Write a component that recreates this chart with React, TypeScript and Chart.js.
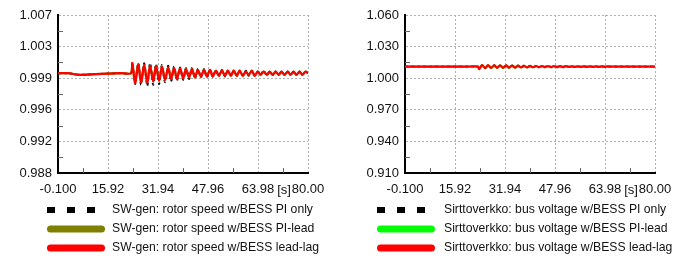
import { useEffect, useRef } from "react";
import { Chart, registerables } from "chart.js";

Chart.register(...registerables);

// ---------- data ----------
const TIMES = [
  0, 3, 7, 12, 20, 23.3,
  23.7, 24.6, 25.6, 26.5, 27.5, 28.5, 29.4, 30.4, 31.3, 32.3,
  33.2, 34.2, 35.2, 36.1, 37.1, 38.0, 39.0, 40.0, 40.9, 41.9,
  42.8, 43.8, 44.7, 45.7, 46.7, 47.6, 48.6, 49.5, 50.5, 51.4,
  52.4, 53.4, 54.3, 55.3, 56.2, 57.2, 58.1, 59.1, 60.1, 61.0,
  62.0, 62.9, 63.9, 64.8, 65.8, 66.8, 67.7, 68.7, 69.6, 70.6,
  71.5, 72.5, 73.5, 74.4, 75.4, 76.3, 77.3, 78.2, 79.2,
  80.0,
];

const SPEED_PI_ONLY = [
  1.0, 1.0, 0.9998, 0.9999, 1.0, 1.0,
  1.0012, 0.9987, 1.0012, 0.9986, 1.0012, 0.9985, 1.0012, 0.9986, 1.0011, 0.9987,
  1.001, 0.9989, 1.0009, 0.999, 1.0008, 0.9991, 1.0007, 0.9992, 1.0006, 0.9993,
  1.0006, 0.9994, 1.0005, 0.9995, 1.0005, 0.9995, 1.0004, 0.9996, 1.0004, 0.9996,
  1.0004, 0.9996, 1.0003, 0.9997, 1.0003, 0.9997, 1.0003, 0.9997, 1.0003, 0.9997,
  1.0003, 0.9997, 1.0002, 0.9998, 1.0003, 0.9997, 1.0002, 0.9998, 1.0002, 0.9998,
  1.0002, 0.9998, 1.0002, 0.9998, 1.0002, 0.9998, 1.0002, 0.9998, 1.0002,
  1.0,
];

const SPEED_PI_LEAD = [
  1.0, 1.0, 0.9998, 0.9999, 1.0, 1.0,
  1.0012, 0.9988, 1.0011, 0.9989, 1.001, 0.9989, 1.0009, 0.999, 1.0009, 0.9991,
  1.0008, 0.9992, 1.0007, 0.9993, 1.0006, 0.9993, 1.0006, 0.9994, 1.0005, 0.9995,
  1.0005, 0.9995, 1.0004, 0.9996, 1.0004, 0.9996, 1.0004, 0.9996, 1.0003, 0.9997,
  1.0003, 0.9997, 1.0003, 0.9997, 1.0003, 0.9997, 1.0003, 0.9997, 1.0002, 0.9998,
  1.0003, 0.9997, 1.0002, 0.9998, 1.0002, 0.9998, 1.0002, 0.9998, 1.0002, 0.9998,
  1.0002, 0.9998, 1.0002, 0.9998, 1.0002, 0.9998, 1.0002, 0.9998, 1.0002,
  1.0,
];

const SPEED_LEAD_LAG = [
  1.0, 1.0, 0.9998, 0.9999, 1.0, 1.0,
  1.0012, 0.9988, 1.0011, 0.9989, 1.001, 0.9989, 1.0009, 0.999, 1.0009, 0.9991,
  1.0008, 0.9992, 1.0007, 0.9993, 1.0006, 0.9993, 1.0006, 0.9994, 1.0005, 0.9995,
  1.0005, 0.9995, 1.0004, 0.9996, 1.0004, 0.9996, 1.0004, 0.9996, 1.0003, 0.9997,
  1.0003, 0.9997, 1.0003, 0.9997, 1.0003, 0.9997, 1.0003, 0.9997, 1.0002, 0.9998,
  1.0003, 0.9997, 1.0002, 0.9998, 1.0002, 0.9998, 1.0002, 0.9998, 1.0002, 0.9998,
  1.0002, 0.9998, 1.0002, 0.9998, 1.0002, 0.9998, 1.0002, 0.9998, 1.0002,
  1.0,
];

const VOLT_PI_ONLY = [
  1.011, 1.011, 1.011, 1.011, 1.011, 1.011,
  1.0086, 1.0124, 1.0096, 1.0124, 1.0097, 1.0123, 1.0098, 1.0122, 1.0099, 1.0121,
  1.01, 1.012, 1.0101, 1.0119, 1.0102, 1.0118, 1.0103, 1.0117, 1.0104, 1.0116,
  1.0104, 1.0116, 1.0105, 1.0115, 1.0105, 1.0115, 1.0106, 1.0114, 1.0106, 1.0114,
  1.0107, 1.0113, 1.0107, 1.0113, 1.0107, 1.0113, 1.0108, 1.0112, 1.0108, 1.0112,
  1.0108, 1.0112, 1.0108, 1.0112, 1.0109, 1.0111, 1.0109, 1.0111, 1.0109, 1.0111,
  1.0109, 1.0111, 1.0109, 1.0111, 1.0109, 1.0111, 1.0109, 1.0111, 1.011,
  1.011,
];

const VOLT_PI_LEAD = [
  1.011, 1.011, 1.011, 1.011, 1.011, 1.011,
  1.0087, 1.0124, 1.0096, 1.0123, 1.0097, 1.0122, 1.0098, 1.0122, 1.0099, 1.0121,
  1.01, 1.012, 1.0101, 1.0119, 1.0102, 1.0118, 1.0103, 1.0117, 1.0104, 1.0116,
  1.0104, 1.0116, 1.0105, 1.0115, 1.0105, 1.0115, 1.0106, 1.0114, 1.0106, 1.0114,
  1.0107, 1.0113, 1.0107, 1.0113, 1.0107, 1.0113, 1.0108, 1.0112, 1.0108, 1.0112,
  1.0108, 1.0112, 1.0108, 1.0112, 1.0109, 1.0111, 1.0109, 1.0111, 1.0109, 1.0111,
  1.0109, 1.0111, 1.0109, 1.0111, 1.0109, 1.0111, 1.0109, 1.0111, 1.011,
  1.011,
];

const VOLT_LEAD_LAG = [
  1.011, 1.011, 1.011, 1.011, 1.011, 1.011,
  1.0086, 1.0124, 1.0096, 1.0124, 1.0097, 1.0123, 1.0098, 1.0122, 1.0099, 1.0121,
  1.01, 1.012, 1.0101, 1.0119, 1.0102, 1.0118, 1.0103, 1.0117, 1.0104, 1.0116,
  1.0104, 1.0116, 1.0105, 1.0115, 1.0105, 1.0115, 1.0106, 1.0114, 1.0106, 1.0114,
  1.0107, 1.0113, 1.0107, 1.0113, 1.0107, 1.0113, 1.0108, 1.0112, 1.0108, 1.0112,
  1.0108, 1.0112, 1.0108, 1.0112, 1.0109, 1.0111, 1.0109, 1.0111, 1.0109, 1.0111,
  1.0109, 1.0111, 1.0109, 1.0111, 1.0109, 1.0111, 1.0109, 1.0111, 1.011,
  1.011,
];

const X_TICKS = [-0.1, 15.92, 31.94, 47.96, 63.98, 80.0];
const X_TICK_LABELS = ["-0.100", "15.92", "31.94", "47.96", "63.98", "80.00"];
const X_UNIT = "[s]";

const SPEED_TICKS = [0.988, 0.9918, 0.9956, 0.9994, 1.0032, 1.007];
const SPEED_TICK_LABELS = ["0.988", "0.992", "0.996", "0.999", "1.003", "1.007"];

const VOLT_TICKS = [0.91, 0.94, 0.97, 1.0, 1.03, 1.06];
const VOLT_TICK_LABELS = ["0.910", "0.940", "0.970", "1.000", "1.030", "1.060"];

const SPEED_LABELS = [
  "SW-gen: rotor speed w/BESS PI only",
  "SW-gen: rotor speed w/BESS PI-lead",
  "SW-gen: rotor speed w/BESS lead-lag",
];
const VOLT_LABELS = [
  "Sirttoverkko: bus voltage w/BESS PI only",
  "Sirttoverkko: bus voltage w/BESS PI-lead",
  "Sirttoverkko: bus voltage w/BESS lead-lag",
];

// ---------- styling ----------
const FAMILY = '"Liberation Sans", Arial, Helvetica, sans-serif';
const FONT_SIZE = 13;
const LEGEND_FONT_SIZE = 12.2;
const TEXT_COLOR = "#111";
const W = 347;
const H = 259;

const decorPlugin = {
  id: "decor",
  afterDraw(chart: any, _args: any, opts: any) {
    const ctx = chart.ctx as CanvasRenderingContext2D;
    const { left, bottom } = chart.chartArea;
    const xs = chart.scales.x;
    const ys = chart.scales.y;
    ctx.save();
    // minor ticks
    ctx.strokeStyle = "#666";
    ctx.lineWidth = 1;
    ctx.setLineDash([]);
    for (let i = 0; i < X_TICKS.length - 1; i++) {
      const px = Math.round(xs.getPixelForValue((X_TICKS[i] + X_TICKS[i + 1]) / 2)) + 0.5;
      ctx.beginPath();
      ctx.moveTo(px, bottom);
      ctx.lineTo(px, bottom - 5);
      ctx.stroke();
    }
    const yt: number[] = opts.yTicks;
    for (let i = 0; i < yt.length - 1; i++) {
      const py = Math.round(ys.getPixelForValue((yt[i] + yt[i + 1]) / 2)) + 0.5;
      ctx.beginPath();
      ctx.moveTo(left, py);
      ctx.lineTo(left + 5, py);
      ctx.stroke();
    }
    // unit label
    ctx.font = `${FONT_SIZE}px ${FAMILY}`;
    ctx.fillStyle = TEXT_COLOR;
    ctx.textAlign = "center";
    ctx.textBaseline = "middle";
    const n = X_TICKS.length;
    ctx.fillText(X_UNIT, xs.getPixelForValue((X_TICKS[n - 2] + X_TICKS[n - 1]) / 2) + 1, bottom + 17);

    // legend
    ctx.font = `${LEGEND_FONT_SIZE}px ${FAMILY}`;
    const rows: number[] = [210, 229, 248];
    const sx: number = opts.swatchX;
    const tx: number = opts.textX;
    const items = opts.items as { label: string; color: string; kind: string }[];
    items.forEach((it, i) => {
      const y = rows[i];
      ctx.strokeStyle = it.color;
      if (it.kind === "dash") {
        ctx.lineWidth = 6;
        ctx.lineCap = "butt";
        ctx.setLineDash([8, 12]);
        ctx.beginPath();
        ctx.moveTo(sx, y);
        ctx.lineTo(sx + 50, y);
        ctx.stroke();
      } else {
        ctx.lineWidth = 7;
        ctx.lineCap = "round";
        ctx.setLineDash([]);
        ctx.beginPath();
        ctx.moveTo(sx + 3.5, y);
        ctx.lineTo(sx + 54.5, y);
        ctx.stroke();
      }
      ctx.setLineDash([]);
      ctx.fillStyle = TEXT_COLOR;
      ctx.textAlign = "left";
      ctx.textBaseline = "middle";
      ctx.fillText(it.label, tx, y);
    });
    ctx.restore();
  },
};

function toPoints(arr: number[]) {
  return TIMES.map((t, i) => ({ x: t, y: arr[i] }));
}

function makeConfig(
  series: { label: string; data: number[]; color: string; dash: boolean; width: number }[],
  yTicks: number[],
  yLabels: string[],
  swatchX: number,
  textX: number
): any {
  return {
    type: "line",
    data: {
      datasets: series.map((s) => ({
        label: s.label,
        data: toPoints(s.data),
        borderColor: s.color,
        backgroundColor: s.color,
        borderWidth: s.width,
        borderDash: s.dash ? [3, 3] : [],
        pointRadius: 0,
        tension: 0.25,
        fill: false,
      })),
    },
    options: {
      responsive: false,
      animation: false,
      devicePixelRatio: 1,
      layout: { padding: { top: 15, right: 39, left: 0, bottom: 0 } },
      plugins: {
        legend: { display: false },
        tooltip: { enabled: false },
        decor: {
          yTicks,
          swatchX,
          textX,
          items: [
            { label: series[2].label, color: "#000", kind: "dash" },
            { label: series[1].label, color: series[1].color, kind: "line" },
            { label: series[0].label, color: series[0].color, kind: "line" },
          ],
        },
      },
      scales: {
        x: {
          type: "linear",
          min: X_TICKS[0],
          max: X_TICKS[X_TICKS.length - 1],
          afterBuildTicks: (s: any) => {
            s.ticks = X_TICKS.map((v) => ({ value: v }));
          },
          afterFit: (s: any) => {
            s.height = H - 173;
          },
          ticks: {
            callback: (_v: any, i: number) => X_TICK_LABELS[i],
            autoSkip: false,
            maxRotation: 0,
            padding: 9,
            color: TEXT_COLOR,
            font: { family: FAMILY, size: FONT_SIZE },
          },
          grid: { color: "#b0b0b0", lineWidth: 1, drawTicks: false },
          border: { display: true, color: "#000", width: 2, dash: [2, 2] },
        },
        y: {
          type: "linear",
          min: yTicks[0],
          max: yTicks[yTicks.length - 1],
          afterBuildTicks: (s: any) => {
            s.ticks = yTicks.map((v) => ({ value: v }));
          },
          afterFit: (s: any) => {
            s.width = 58;
          },
          ticks: {
            callback: (_v: any, i: number) => yLabels[i],
            autoSkip: false,
            padding: 6,
            color: TEXT_COLOR,
            font: { family: FAMILY, size: FONT_SIZE },
          },
          grid: { color: "#b0b0b0", lineWidth: 1, drawTicks: false },
          border: { display: true, color: "#000", width: 2, dash: [2, 2] },
        },
      },
    },
    plugins: [decorPlugin],
  };
}

function ChartCanvas({ config }: { config: any }) {
  const ref = useRef<HTMLCanvasElement | null>(null);
  useEffect(() => {
    if (!ref.current) return;
    const chart = new Chart(ref.current, config);
    return () => chart.destroy();
  }, [config]);
  return <canvas ref={ref} width={W} height={H} style={{ width: W, height: H, display: "block" }} />;
}

const speedConfig = makeConfig(
  [
    { label: SPEED_LABELS[2], data: SPEED_LEAD_LAG, color: "#ff0000", dash: false, width: 2.2 },
    { label: SPEED_LABELS[1], data: SPEED_PI_LEAD, color: "#7f7f00", dash: false, width: 2.2 },
    { label: SPEED_LABELS[0], data: SPEED_PI_ONLY, color: "#000000", dash: true, width: 2 },
  ],
  SPEED_TICKS,
  SPEED_TICK_LABELS,
  47,
  112
);

const voltConfig = makeConfig(
  [
    { label: VOLT_LABELS[2], data: VOLT_LEAD_LAG, color: "#ff0000", dash: false, width: 2.2 },
    { label: VOLT_LABELS[1], data: VOLT_PI_LEAD, color: "#00ff00", dash: false, width: 2.2 },
    { label: VOLT_LABELS[0], data: VOLT_PI_ONLY, color: "#000000", dash: true, width: 2 },
  ],
  VOLT_TICKS,
  VOLT_TICK_LABELS,
  30,
  97
);

export default function App() {
  return (
    <div
      style={{
        position: "fixed",
        left: 0,
        top: 0,
        width: 694,
        height: 259,
        display: "flex",
        background: "#fff",
      }}
    >
      <ChartCanvas config={speedConfig} />
      <ChartCanvas config={voltConfig} />
    </div>
  );
}
